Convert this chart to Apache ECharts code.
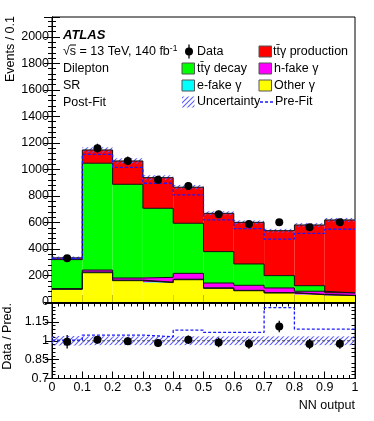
<!DOCTYPE html>
<html><head><meta charset="utf-8">
<script src="https://cdn.jsdelivr.net/npm/echarts@6/dist/echarts.min.js"></script>
<style>html,body{margin:0;padding:0;background:#fff}#c{width:374px;height:421px}</style>
</head><body><div id="c"></div>
<script>
// ---- data ----
const binEdges   = [0, 0.1, 0.2, 0.3, 0.4, 0.5, 0.6, 0.7, 0.8, 0.9, 1.0];
const binCenters = [0.05, 0.15, 0.25, 0.35, 0.45, 0.55, 0.65, 0.75, 0.85, 0.95];
const otherGamma = [96, 221, 161, 146, 168, 103, 85, 68, 55, 48];
const eFakeGamma = [2, 5, 4, 4, 4, 4, 3, 3, 2, 2];
const hFakeGamma = [3, 15, 16, 36, 44, 36, 38, 35, 24, 18];
const ttyDecay   = [219, 806, 707, 521, 378, 237, 161, 93, 42, 2];
const ttyProd    = [13, 100, 176, 231, 272, 289, 314, 339, 458, 549];
const totalUnc   = [10, 20, 20, 18, 17, 15, 14, 14, 14, 15];
const preFit     = [328, 1114, 1016, 896, 808, 619, 553, 475, 518, 549];
const dataVals   = [330, 1160, 1064, 923, 875, 662, 589, 601, 564, 601];
const dataErr    = [18, 34, 33, 30, 30, 26, 24, 25, 24, 25];
const ratioData  = [0.992, 1.008, 0.997, 0.982, 1.008, 0.987, 0.976, 1.113, 0.974, 0.976];
const ratioErr   = [0.054, 0.030, 0.031, 0.032, 0.034, 0.039, 0.040, 0.045, 0.041, 0.040];
const ratioPreFit= [1.005, 1.045, 1.045, 1.032, 1.084, 1.066, 1.066, 1.263, 1.092, 1.092];
const ratioUnc   = [0.038, 0.035, 0.035, 0.035, 0.035, 0.035, 0.035, 0.035, 0.035, 0.035];
const ratioLabels= [0.7, 0.85, 1, 1.15];
const ratioMajor = [0.7, 0.85, 1, 1.15, 1.3];
const ratioMinor = [0.73,0.76,0.79,0.82,0.88,0.91,0.94,0.97,1.03,1.06,1.09,1.12,1.18,1.21,1.24,1.27];

const FONT = 'Liberation Sans, Arial, Helvetica, sans-serif';
const chart = echarts.init(document.getElementById('c'), null, {renderer:'canvas'});

function hatchCanvas(color){
  const c = document.createElement('canvas'); c.width = 5; c.height = 5;
  const g = c.getContext('2d'); g.strokeStyle = color; g.lineWidth = 1.1;
  g.beginPath();
  g.moveTo(0,5); g.lineTo(5,0);
  g.moveTo(-5,5); g.lineTo(5,-5);
  g.moveTo(0,10); g.lineTo(10,0);
  g.stroke(); return c;
}
const hatch = hatchCanvas('#5c5cff');
const hatchFill = {image: hatch, repeat: 'repeat'};

const layers = [
  {name:'Other γ', vals: otherGamma, color:'#ffff00'},
  {name:'e-fake γ', vals: eFakeGamma, color:'#00ffff'},
  {name:'h-fake γ', vals: hFakeGamma, color:'#ff00ff'},
  {name:'tt̄γ decay', vals: ttyDecay, color:'#00ff00'},
  {name:'tt̄γ production', vals: ttyProd, color:'#ff0000'}
];
let base = otherGamma.map(()=>0);
const series = [];
const outlines = [];
layers.forEach(L=>{
  const b = base.slice();
  const top = b.map((v,i)=>v + L.vals[i]);
  series.push({
    type:'custom', name:L.name, xAxisIndex:0, yAxisIndex:0, silent:true, animation:false,
    data: L.vals.map((v,i)=>[binEdges[i], binEdges[i+1], b[i], top[i]]),
    encode:{x:[0,1], y:[2,3]},
    renderItem:(p, api)=>{
      const a = api.coord([api.value(0), api.value(3)]);
      const c = api.coord([api.value(1), api.value(2)]);
      return {type:'rect', shape:{x:a[0], y:a[1], width:c[0]-a[0], height:c[1]-a[1]}, style:{fill:L.color, stroke:null}};
    }
  });
  outlines.push(top);
  base = top;
});
const total = base;
function stepData(vals){
  const d = vals.map((v,i)=>[binEdges[i], v]);
  d.push([binEdges[binEdges.length-1], vals[vals.length-1]]);
  return d;
}
outlines.forEach(top=>{
  series.push({type:'line', xAxisIndex:0, yAxisIndex:0, step:'end', symbol:'none', silent:true, animation:false,
    data: stepData(top), lineStyle:{color:'#111', width:1}});
});
series.push({type:'custom', xAxisIndex:0, yAxisIndex:0, silent:true, animation:false,
  data: total.map((t,i)=>[binEdges[i], binEdges[i+1], t - totalUnc[i], t + totalUnc[i]]),
  encode:{x:[0,1], y:[2,3]},
  renderItem:(p, api)=>{
    const a = api.coord([api.value(0), api.value(3)]);
    const c = api.coord([api.value(1), api.value(2)]);
    return {type:'rect', shape:{x:a[0], y:a[1], width:c[0]-a[0], height:c[1]-a[1]}, style:{fill:hatchFill}};
  }});
series.push({type:'line', xAxisIndex:0, yAxisIndex:0, step:'end', symbol:'none', silent:true, animation:false,
  data: stepData(preFit), lineStyle:{color:'#1a1aff', width:1.3, type:[3,2]}});
function pointSeries(xi, yi, ys, es){
  return {type:'custom', xAxisIndex:xi, yAxisIndex:yi, silent:true, animation:false, z:10,
    data: ys.map((v,i)=>[binCenters[i], v, es[i]]),
    encode:{x:0, y:1},
    renderItem:(p, api)=>{
      const x = api.value(0), y = api.value(1), e = api.value(2);
      const c = api.coord([x,y]), lo = api.coord([x,y-e]), hi = api.coord([x,y+e]);
      return {type:'group', children:[
        {type:'line', shape:{x1:c[0], y1:hi[1], x2:c[0], y2:lo[1]}, style:{stroke:'#000', lineWidth:1.3}},
        {type:'circle', shape:{cx:c[0], cy:c[1], r:4}, style:{fill:'#000'}}
      ]};
    }};
}
series.push(pointSeries(0,0,dataVals,dataErr));

series.push({type:'custom', xAxisIndex:2, yAxisIndex:2, silent:true, animation:false,
  data: ratioUnc.map((u,i)=>[binEdges[i], binEdges[i+1], 1-u, 1+u]),
  encode:{x:[0,1], y:[2,3]},
  renderItem:(p, api)=>{
    const a = api.coord([api.value(0), api.value(3)]);
    const c = api.coord([api.value(1), api.value(2)]);
    return {type:'rect', shape:{x:a[0], y:a[1], width:c[0]-a[0], height:c[1]-a[1]}, style:{fill:hatchFill}};
  }});
series.push({type:'line', xAxisIndex:2, yAxisIndex:2, symbol:'none', silent:true, animation:false,
  data:[[0,1],[1,1]], lineStyle:{color:'#333', width:0.8, type:[3,2]}});
series.push({type:'line', xAxisIndex:2, yAxisIndex:2, step:'end', symbol:'none', silent:true, animation:false,
  data: stepData(ratioPreFit), lineStyle:{color:'#1a1aff', width:1.3, type:[3,2]}});
series.push(pointSeries(2,2,ratioData,ratioErr));

const tickBase = {show:true, inside:true, lineStyle:{color:'#000', width:1}};
const lineBase = {show:true, lineStyle:{color:'#000', width:1}};
const labelBase = {color:'#000', fontFamily:FONT, fontSize:12.5};
function xAx(grid, pos, showLabel){
  return {type:'value', gridIndex:grid, position:pos, min:0, max:1, interval:0.1,
    axisLine:lineBase, axisTick:Object.assign({}, tickBase, {length:7}),
    minorTick:{show:true, splitNumber:5, length:3.5, lineStyle:{color:'#000'}},
    splitLine:{show:false}, minorSplitLine:{show:false},
    axisLabel: showLabel ? Object.assign({}, labelBase, {margin:3, formatter:v=>String(+(+v).toFixed(1))}) : {show:false}};
}
function yMain(pos, showLabel){
  return {type:'value', gridIndex:0, position:pos, min:0, max:2150, interval:200,
    axisLine:lineBase, axisTick:Object.assign({}, tickBase, {length:8}),
    minorTick:{show:true, splitNumber:5, length:4, lineStyle:{color:'#000'}},
    splitLine:{show:false},
    axisLabel: showLabel ? Object.assign({}, labelBase, {margin:3, showMaxLabel:false, formatter:v=>String(Math.round(v))}) : {show:false}};
}
function yRatio(pos, vals, len, labels){
  return {type:'value', gridIndex:1, position:pos, min:0.7, max:1.3,
    axisLine:lineBase, axisTick:Object.assign({}, tickBase, {length:len, customValues:vals}),
    minorTick:{show:false}, splitLine:{show:false},
    axisLabel: labels ? Object.assign({}, labelBase, {margin:3, customValues:labels, formatter:v=>String(+(+v).toFixed(2))}) : {show:false}};
}

function legendBox(x, y, fill){
  return {type:'rect', shape:{x:x, y:y-5.5, width:12.5, height:11}, style:{fill:fill, stroke:'#555', lineWidth:1}};
}
function txt(x, y, s, extra){
  return {type:'text', x:x, y:y, style:Object.assign({text:s, fill:'#000', font:'12.5px '+FONT, textVerticalAlign:'middle', textAlign:'left'}, extra||{})};
}
const r1=51.5, r2=68.5, r3=85.5, r4=102;
const graphics = [
  txt(63, 35, 'ATLAS', {font:'italic bold 13px '+FONT}),
  {type:'text', x:63, y:52, style:{text:'√s = 13 TeV, 140 fb{s|-1}', fill:'#000', font:'12.5px '+FONT, textVerticalAlign:'middle',
    rich:{s:{fontSize:8.5, fontFamily:FONT, verticalAlign:'top', padding:[0,0,7,0]}}}},
  {type:'line', shape:{x1:70, y1:45, x2:76, y2:45}, style:{stroke:'#000', lineWidth:1}},
  txt(63, 69, 'Dilepton'),
  txt(63, 86, 'SR'),
  txt(63, 103, 'Post-Fit'),
  {type:'line', shape:{x1:189, y1:r1-7, x2:189, y2:r1+7}, style:{stroke:'#000', lineWidth:1.3}},
  {type:'circle', shape:{cx:189, cy:r1, r:4}, style:{fill:'#000'}},
  txt(197, r1, 'Data'),
  legendBox(182, r2, '#00ff00'), txt(197, r2, 'tt̄γ decay'),
  legendBox(182, r3, '#00ffff'), txt(197, r3, 'e-fake γ'),
  {type:'rect', shape:{x:182, y:r4-5.5, width:12.5, height:11}, style:{fill:hatchFill}},
  txt(197, r4, 'Uncertainty'),
  legendBox(259, r1, '#ff0000'), txt(273, r1, 'tt̄γ production'),
  legendBox(259, r2, '#ff00ff'), txt(274, r2, 'h-fake γ'),
  legendBox(259, r3, '#ffff00'), txt(274, r3, 'Other γ'),
  {type:'line', shape:{x1:260, y1:r4, x2:273, y2:r4}, style:{stroke:'#1a1aff', lineWidth:1.3, lineDash:[3,2]}},
  txt(275, r4, 'Pre-Fit'),
  {type:'text', x:11, y:16, rotation:Math.PI/2, style:{text:'Events / 0.1', fill:'#000', font:'12.5px '+FONT, textAlign:'right', textVerticalAlign:'middle'}},
  {type:'text', x:8, y:303, rotation:Math.PI/2, style:{text:'Data / Pred.', fill:'#000', font:'12.5px '+FONT, textAlign:'right', textVerticalAlign:'middle'}},
  {type:'text', x:355, y:406, style:{text:'NN output', fill:'#000', font:'12.5px '+FONT, textAlign:'right', textVerticalAlign:'middle'}}
];

chart.setOption({
  animation:false,
  backgroundColor:'#fff',
  grid:[
    {left:52, right:19, top:17, height:285, show:true, borderColor:'#000', borderWidth:1, backgroundColor:'transparent'},
    {left:52, right:19, top:303, height:75.5, show:true, borderColor:'#000', borderWidth:1, backgroundColor:'transparent'}
  ],
  xAxis:[xAx(0,'bottom',false), xAx(0,'top',false), xAx(1,'bottom',true), xAx(1,'top',false)],
  yAxis:[yMain('left',true), yMain('right',false),
    yRatio('left', ratioMajor, 7, ratioLabels), yRatio('right', ratioMajor, 7, null),
    yRatio('left', ratioMinor, 3.5, null), yRatio('right', ratioMinor, 3.5, null)],
  series: series,
  graphic: graphics
});
</script></body></html>
